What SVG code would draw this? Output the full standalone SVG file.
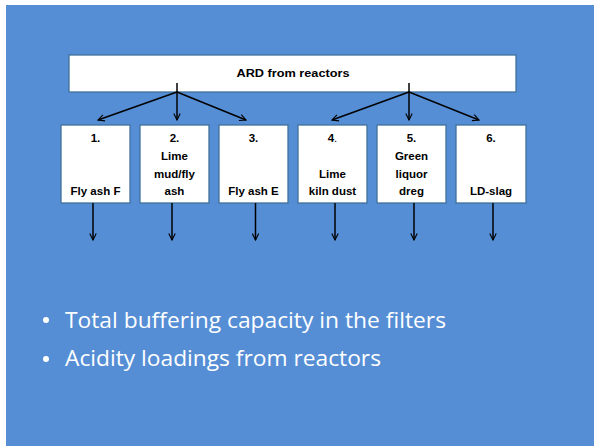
<svg xmlns="http://www.w3.org/2000/svg" width="594" height="446" viewBox="0 0 594 446">
  <defs>
    <marker id="arrow" viewBox="0 0 10 10" refX="9" refY="5" markerWidth="8" markerHeight="8" markerUnits="userSpaceOnUse" orient="auto">
      <path d="M1,1 L9,5 L1,9" fill="none" stroke="#000" stroke-width="1.4"/>
    </marker>
    <style>
      .box { fill: #ffffff; stroke: #41719c; stroke-width: 1.3; }
      .lbl { font-family: "Liberation Sans", Arial, sans-serif; font-weight: bold; font-size: 11.5px; fill: #000; text-anchor: middle; }
      .conn { fill: none; stroke: #000; stroke-width: 1.5; }
      .bullet { font-family: "Open Sans", "Liberation Sans", sans-serif; font-size: 21px; fill: #ffffff; }
    </style>
  </defs>

  <rect x="0" y="0" width="594" height="446" fill="#ffffff"/>
  <rect x="6" y="5" width="588" height="441" fill="#558ed5"/>

  <g id="ard">
    <rect class="box" x="69" y="55" width="447" height="37"/>
    <text class="lbl" x="293" y="77" textLength="113" lengthAdjust="spacingAndGlyphs">ARD from reactors</text>
  </g>

  <g id="n1">
    <rect class="box" x="61" y="125" width="69" height="78"/>
    <text class="lbl" x="95.5" y="142">1.</text>
    <text class="lbl" x="95.5" y="195">Fly ash F</text>
  </g>
  <g id="n2">
    <rect class="box" x="140" y="125" width="69" height="78"/>
    <text class="lbl" x="174.5" y="142">2.</text>
    <text class="lbl" x="174.5" y="160">Lime</text>
    <text class="lbl" x="174.5" y="177.5">mud/fly</text>
    <text class="lbl" x="174.5" y="195">ash</text>
  </g>
  <g id="n3">
    <rect class="box" x="219" y="125" width="69" height="78"/>
    <text class="lbl" x="253.5" y="142">3.</text>
    <text class="lbl" x="253.5" y="195">Fly ash E</text>
  </g>
  <g id="n4">
    <rect class="box" x="298" y="125" width="69" height="78"/>
    <text class="lbl" x="332.5" y="142">4<tspan font-weight="normal">.</tspan></text>
    <text class="lbl" x="332.5" y="177.5">Lime</text>
    <text class="lbl" x="332.5" y="195">kiln dust</text>
  </g>
  <g id="n5">
    <rect class="box" x="377" y="125" width="69" height="78"/>
    <text class="lbl" x="411.5" y="142">5.</text>
    <text class="lbl" x="411.5" y="160">Green</text>
    <text class="lbl" x="411.5" y="177.5">liquor</text>
    <text class="lbl" x="411.5" y="195">dreg</text>
  </g>
  <g id="n6">
    <rect class="box" x="456" y="125" width="70" height="78"/>
    <text class="lbl" x="491" y="142">6.</text>
    <text class="lbl" x="491" y="195">LD-slag</text>
  </g>

  <g id="connectors">
    <line class="conn" x1="177" y1="83" x2="177" y2="92"/>
    <line class="conn" x1="177" y1="92" x2="98" y2="120" marker-end="url(#arrow)"/>
    <line class="conn" x1="177" y1="92" x2="177" y2="120" marker-end="url(#arrow)"/>
    <line class="conn" x1="177" y1="92" x2="246" y2="120" marker-end="url(#arrow)"/>
    <line class="conn" x1="409" y1="83" x2="409" y2="92"/>
    <line class="conn" x1="409" y1="92" x2="332" y2="120" marker-end="url(#arrow)"/>
    <line class="conn" x1="409" y1="92" x2="409" y2="120" marker-end="url(#arrow)"/>
    <line class="conn" x1="409" y1="92" x2="479" y2="120" marker-end="url(#arrow)"/>

    <line class="conn" x1="93" y1="203" x2="93" y2="240" marker-end="url(#arrow)"/>
    <line class="conn" x1="172" y1="203" x2="172" y2="240" marker-end="url(#arrow)"/>
    <line class="conn" x1="255.5" y1="203" x2="255.5" y2="240" marker-end="url(#arrow)"/>
    <line class="conn" x1="335" y1="203" x2="335" y2="240" marker-end="url(#arrow)"/>
    <line class="conn" x1="414" y1="203" x2="414" y2="240" marker-end="url(#arrow)"/>
    <line class="conn" x1="493" y1="203" x2="493" y2="240" marker-end="url(#arrow)"/>
  </g>

  <g id="bullets">
    <circle cx="46" cy="320" r="3" fill="#ffffff"/>
    <text class="bullet" x="65" y="327.5" textLength="381" lengthAdjust="spacingAndGlyphs">Total buffering capacity in the filters</text>
    <circle cx="46" cy="359" r="3" fill="#ffffff"/>
    <text class="bullet" x="65" y="366" textLength="316" lengthAdjust="spacingAndGlyphs">Acidity loadings from reactors</text>
  </g>
</svg>
